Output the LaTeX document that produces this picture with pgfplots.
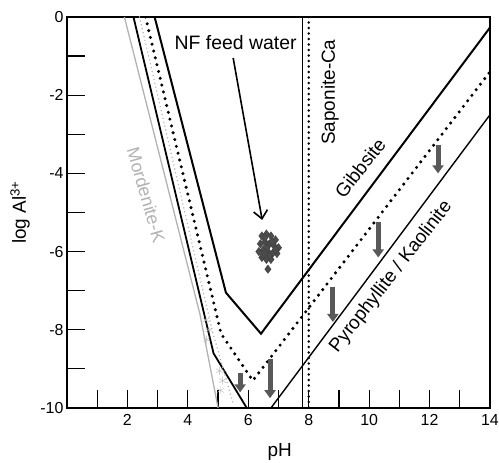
\documentclass[border=0pt]{standalone}
\usepackage{fontspec}
\setmainfont{Liberation Sans}
\usepackage{pgfplots}
\pgfplotsset{compat=1.18}
\usetikzlibrary{arrows.meta}
\begin{document}
\begin{tikzpicture}
\path[use as bounding box] (-67bp,-55bp) rectangle (432bp,408bp);
\begin{axis}[
 at={(0,0)}, anchor=south west,
 scale only axis, width=423bp, height=391bp,
 xmin=0, xmax=14, ymin=-10, ymax=0,
 axis line style={line width=1.2bp},
 xtick={2,4,...,14}, xticklabels={2,4,6,8,10,12,14},
 minor xtick={1,3,...,13},
 ytick={-10,-8,...,0}, yticklabels={-10,-8,-6,-4,-2,0},
 minor ytick={-9,-7,...,-1},
 tick align=inside, xtick pos=left, ytick pos=left,
 major tick length=18bp, minor tick length=18bp,
 every tick/.style={line width=1.2bp, black},
 every minor tick/.style={line width=1.2bp, black},
 ticklabel style={font=\fontsize{16}{18}\selectfont},
 xticklabel style={yshift=-3bp},
 xlabel={pH}, ylabel={log Al\textsuperscript{3+}},
 label style={font=\fontsize{19}{22}\selectfont},
 xlabel style={at={(axis description cs:0.503,-0.1125)}, anchor=center},
 ylabel style={at={(axis description cs:-0.111,0.5)}, anchor=center},
 clip=true,
]
% Gibbsite
\addplot[black, line width=2bp] coordinates {(2.9,0) (5.26,-7.05) (6.42,-8.1) (14,-0.27)};
% dotted boundary
\addplot[black, line width=3.4bp, line cap=round, dash pattern=on 0pt off 7bp] coordinates {(2.6,0) (5.1,-8.1) (6.15,-9.3) (14,-1.4)};
% inner solid (left)
\addplot[black, line width=1.8bp] coordinates {(2.2,0) (4.85,-8.6) (5.95,-10)};
% Pyrophyllite / Kaolinite (right)
\addplot[black, line width=1.4bp] coordinates {(6.75,-10) (14,-2.5)};
% gray small-dotted
\addplot[gray!60, line width=1.6bp, line cap=round, dash pattern=on 0pt off 4bp] coordinates {(2.4,0) (4.8,-8.0) (5.5,-9.9)};
% Mordenite-K
\addplot[gray!60, line width=1.3bp] coordinates {(1.9,0) (4.4,-7.6) (5.0,-10)};
% Saponite-Ca verticals
\addplot[black, line width=1.2bp] coordinates {(7.8,0) (7.8,-10)};
\addplot[black, line width=2.8bp, line cap=round, dash pattern=on 0pt off 5.5bp] coordinates {(8.0,0) (8.0,-10)};
% gray down arrows
\addplot[quiver={u=0, v=\thisrow{v}}, -{Triangle[width=11bp,length=8bp]}, line width=5bp, black!65] table[x=x,y=y] {
x y v
5.73 -9.10 -0.50
6.72 -8.75 -1.00
8.80 -6.90 -0.90
10.30 -5.25 -0.90
12.28 -3.27 -0.73
};
% gray star markers
\addplot[only marks, mark=asterisk, mark size=4pt, gray!55] coordinates {(4.6,-7.75) (4.7,-8.0) (4.62,-8.25) (5.05,-9.05) (5.15,-9.3) (5.08,-9.55)};
% NF feed water
\addplot[only marks, mark=diamond*, mark size=4.2pt, black!75, mark options={fill=black!70}] coordinates {
(6.45,-5.6) (6.6,-5.55) (6.75,-5.6) (6.9,-5.7) (6.4,-5.8) (6.55,-5.75) (6.7,-5.8) (6.85,-5.85) (7.0,-5.9)
(6.35,-6.0) (6.5,-5.95) (6.65,-6.0) (6.8,-6.05) (6.95,-6.05) (6.45,-6.15) (6.6,-6.2) (6.75,-6.2)
(6.55,-5.65) (6.8,-5.75) (6.5,-6.08) (6.9,-5.95) (6.62,-5.9) (6.7,-6.1) (6.65,-6.45)};
\draw[line width=1.6bp, -{Straight Barb[length=8bp,width=14bp]}] (axis cs:5.5,-1.05) -- (axis cs:6.46,-5.19);
\node[font=\fontsize{19.5}{22}\selectfont] at (axis cs:5.58,-0.66) {NF feed water};
\node[font=\fontsize{19}{22}\selectfont, rotate=90] at (axis cs:8.7,-1.92) {Saponite-Ca};
\node[font=\fontsize{19}{22}\selectfont, rotate=52] at (axis cs:9.7,-3.86) {Gibbsite};
\node[font=\fontsize{19}{22}\selectfont, rotate=52] at (axis cs:10.73,-6.65) {Pyrophyllite / Kaolinite};
\node[font=\fontsize{18}{22}\selectfont, rotate=-74, text=gray!60] at (axis cs:2.62,-4.55) {Mordenite-K};
\end{axis}
\end{tikzpicture}
\end{document}
